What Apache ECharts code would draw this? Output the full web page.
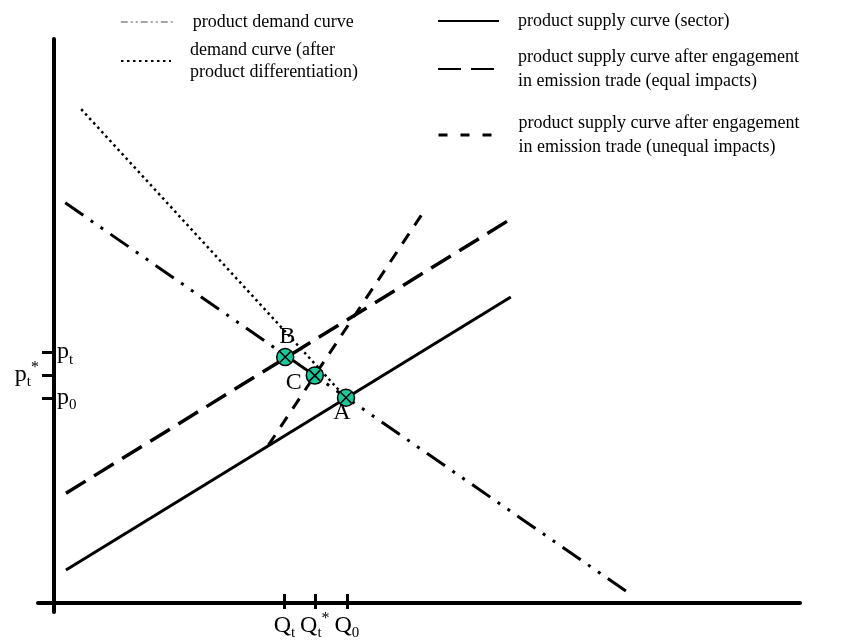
<!DOCTYPE html>
<html>
<head>
<meta charset="utf-8">
<script src="https://cdn.jsdelivr.net/npm/echarts@6/dist/echarts.min.js"></script>
<style>html,body{margin:0;padding:0;background:#fff}#c{width:841px;height:642px}</style>
</head>
<body>
<div id="c"></div>
<script>
// ---- data (units: quantity Q, price p) ----
const demandCurve   = [[1.4, 66.7], [71.8, 1.7]];
const demandDiff    = [[3.4, 82.3], [36.5, 34.2]];
const supplySector  = [[1.5, 5.5], [57.1, 51.0]];
const supplyEqual   = [[1.5, 18.3], [57.1, 64.0]];
const supplyUnequal = [[26.8, 26.3], [46.1, 65.0]];
const pointNames = ['B', 'C', 'A'];
const pointQ = [28.9, 32.6, 36.5];
const pointP = [41.0, 37.9, 34.2];
const priceTickValues = [41.8, 38.0, 34.2];
const priceTickLabels = ['{p|p}{s|t}', '{p|p}{s|t}{sup|*}', '{p|p}{s|0}'];
const qtyTickValues = [28.8, 32.6, 36.6];
const qtyTickLabels = ['{p|Q}{s|t}', '{p|Q}{s|t}{sup|*}', '{p|Q}{s|0}'];
const seriesNames = [
  'product demand curve',
  'demand curve (after\nproduct differentiation)',
  'product supply curve (sector)',
  'product supply curve after engagement\nin emission trade (equal impacts)',
  'product supply curve after engagement\nin emission trade (unequal impacts)'
];

const FONT = 'Liberation Serif';
const TEAL = '#19c89b';
const rich = {
  p: {fontFamily: FONT, fontSize: 24, lineHeight: 30, color: '#000'},
  s: {fontFamily: FONT, fontSize: 15, lineHeight: 16, color: '#000', verticalAlign: 'bottom'},
  sup: {fontFamily: FONT, fontSize: 16, lineHeight: 16, color: '#000', verticalAlign: 'top'}
};
function pick(vals, labels, v) {
  let best = 0;
  vals.forEach((x, i) => { if (Math.abs(x - v) < Math.abs(vals[best] - v)) best = i; });
  return labels[best];
}
const labelOffsets = [[2, -20], [-21, 7], [-4, 15]];

function lineSeries(name, data, ls) {
  return {type: 'line', name, data, symbol: 'none', showSymbol: false, silent: true,
    color: '#000', itemStyle: {color: '#000'},
    lineStyle: Object.assign({color: '#000', cap: 'butt'}, ls), z: 3};
}
function legendBox(name, left, top, itemWidth, lineHeight, lineStyle, textPad) {
  const item = {name, itemStyle: {opacity: 0, color: 'rgba(0,0,0,0)', borderWidth: 0}};
  if (lineStyle) item.lineStyle = lineStyle;
  return {
    data: [item], left, top, padding: 0, itemWidth, itemHeight: 12,
    selectedMode: false, orient: 'vertical',
    itemStyle: {opacity: 0, color: 'rgba(0,0,0,0)', borderWidth: 0},
    textStyle: {fontFamily: FONT, fontSize: 18, color: '#000', lineHeight,
      padding: textPad || [0, 0, 0, 14]}
  };
}

const chart = echarts.init(document.getElementById('c'), null, {renderer: 'canvas'});
chart.setOption({
  animation: false,
  backgroundColor: '#fff',
  grid: {left: 38, right: 41, top: 39, bottom: 30, containLabel: false, outerBoundsMode: 'none'},
  legend: [
    legendBox(seriesNames[0], 120, 11, 53, 22, {color: '#888', width: 1.5, type: [7, 3, 2, 3, 2, 3]}),
    legendBox(seriesNames[1], 120, 34, 50, 22, null, [10, 0, 0, 14]),
    legendBox(seriesNames[2], 437, 10, 61, 22),
    legendBox(seriesNames[3], 437, 45, 61, 24),
    legendBox(seriesNames[4], 437, 111, 61, 24, {color: '#000', width: 3, type: [9, 13]})
  ],
  xAxis: [{
    type: 'value', min: -2, max: 93.25,
    axisLine: {show: true, onZero: true, lineStyle: {color: '#000', width: 4}},
    splitLine: {show: false},
    axisTick: {show: true, customValues: qtyTickValues, length: 6, lineStyle: {color: '#000', width: 3}},
    axisLabel: {show: true, customValues: qtyTickValues, margin: -1, rich,
      formatter: v => pick(qtyTickValues, qtyTickLabels, v)}
  }, {
    type: 'value', min: -2, max: 93.25, position: 'bottom',
    axisLine: {show: false, onZero: true},
    splitLine: {show: false},
    axisTick: {show: true, inside: true, customValues: qtyTickValues, length: 9, lineStyle: {color: '#000', width: 3}},
    axisLabel: {show: false}
  }],
  yAxis: [{
    type: 'value', min: -1.5, max: 94,
    axisLine: {show: true, onZero: true, lineStyle: {color: '#000', width: 4}},
    splitLine: {show: false},
    axisTick: {show: true, customValues: priceTickValues, length: 12, lineStyle: {color: '#000', width: 3}},
    axisLabel: {show: true, inside: false, margin: -19, align: 'left', rich,
      customValues: [priceTickValues[0], priceTickValues[2]],
      formatter: v => pick(priceTickValues, priceTickLabels, v)}
  }, {
    type: 'value', min: -1.5, max: 94, position: 'left',
    axisLine: {show: false, onZero: true},
    splitLine: {show: false},
    axisTick: {show: false},
    axisLabel: {show: true, margin: -1, align: 'right', rich,
      customValues: [priceTickValues[1]],
      formatter: v => pick(priceTickValues, priceTickLabels, v)}
  }],
  series: [
    lineSeries(seriesNames[0], demandCurve, {width: 3, type: [22, 9, 3, 9, 3, 9]}),
    lineSeries(seriesNames[1], demandDiff, {width: 2.5, type: [2.5, 3.5]}),
    lineSeries(seriesNames[2], supplySector, {width: 3, type: 'solid'}),
    lineSeries(seriesNames[3], supplyEqual, {width: 3.5, type: [23, 10]}),
    lineSeries(seriesNames[4], supplyUnequal, {width: 3, type: [12, 10]}),
    {
      type: 'scatter', name: 'points', silent: true, z: 6,
      symbol: 'circle', symbolSize: 17,
      itemStyle: {color: TEAL, borderColor: '#000', borderWidth: 1.5, opacity: 1},
      data: pointNames.map((n, i) => ({name: n, value: [pointQ[i], pointP[i]],
        label: {show: true, position: 'inside', offset: labelOffsets[i], formatter: n,
          fontFamily: FONT, fontSize: 24, color: '#000'}}))
    },
    {
      type: 'scatter', name: 'cross', silent: true, z: 7,
      symbol: 'path://M0,0L10,10M0,10L10,0', symbolSize: 11,
      itemStyle: {color: 'rgba(0,0,0,0)', borderColor: '#000', borderWidth: 1.5, opacity: 1},
      data: pointNames.map((n, i) => [pointQ[i], pointP[i]])
    }
  ]
});
</script>
</body>
</html>
